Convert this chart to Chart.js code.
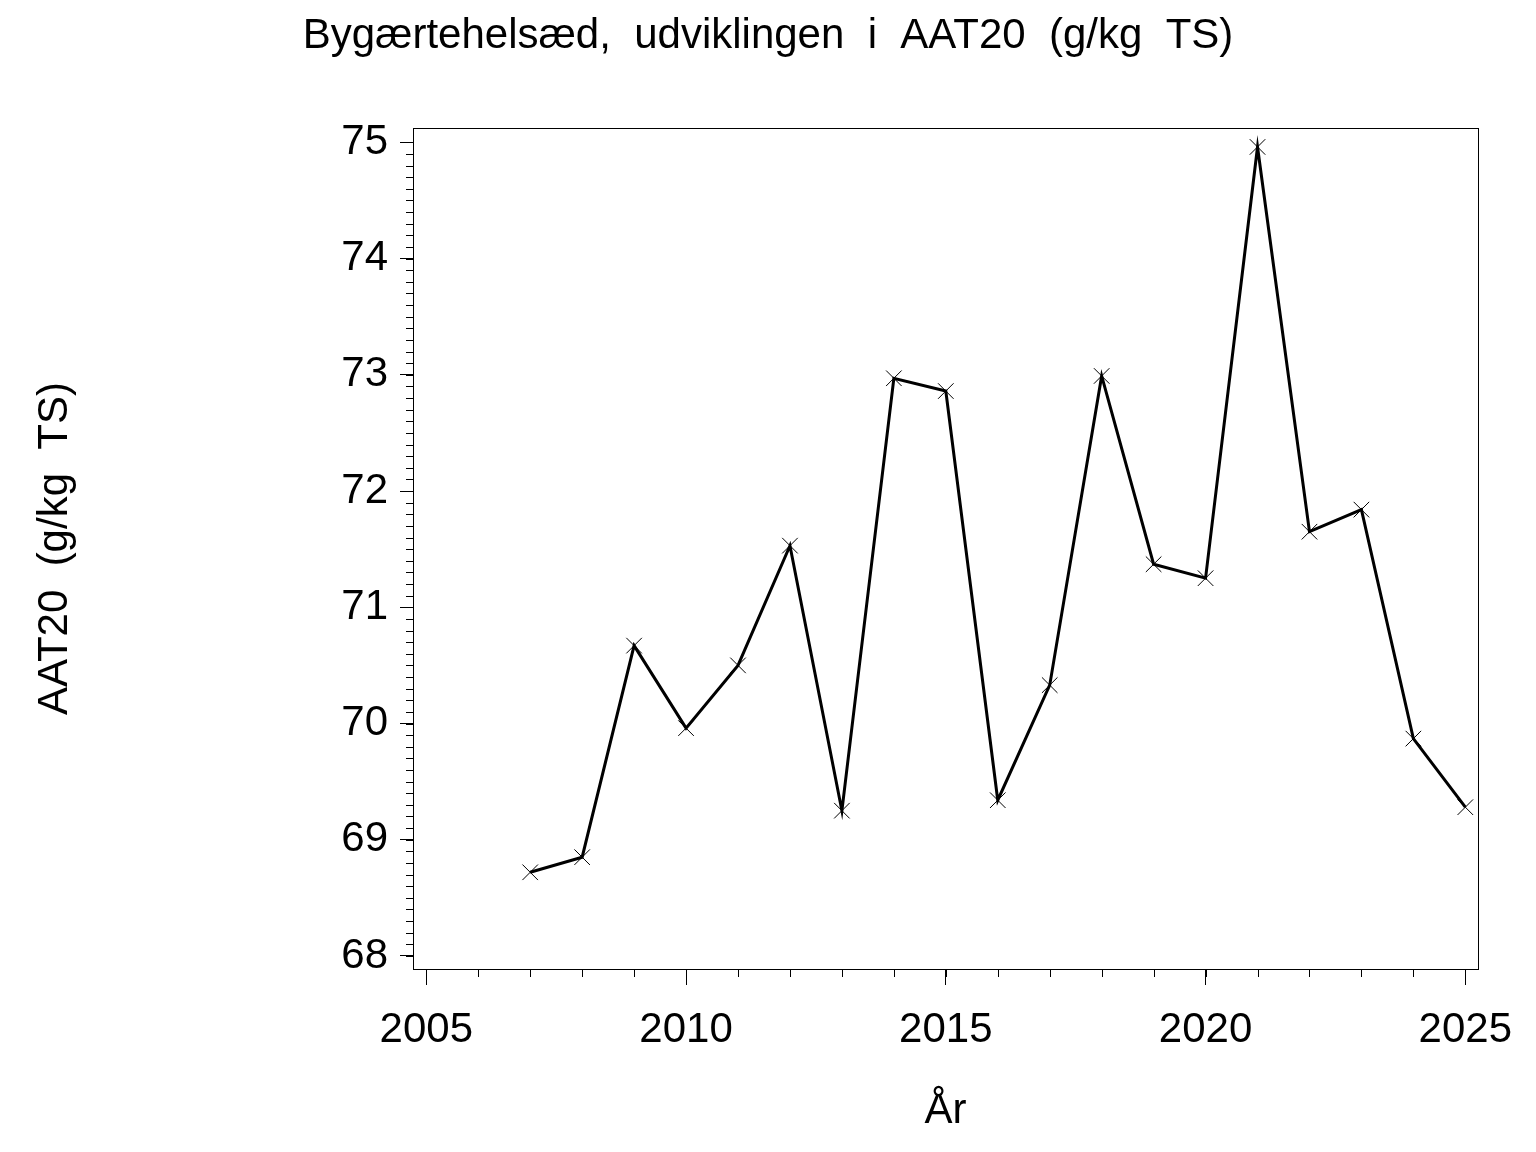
<!DOCTYPE html>
<html>
<head>
<meta charset="utf-8">
<title>Bygærtehelsæd AAT20</title>
<script src="https://cdn.jsdelivr.net/npm/chart.js"></script>
<style>
  body { margin: 0; background: #fff; }
  #wrap { width: 1536px; height: 1152px; }
</style>
</head>
<body>
<div id="wrap"><canvas id="myChart" width="1536" height="1152"></canvas></div>
<script>
// data
const years = [2007, 2008, 2009, 2010, 2011, 2012, 2013, 2014, 2015, 2016,
               2017, 2018, 2019, 2020, 2021, 2022, 2023, 2024, 2025];
const aat20 = [68.72, 68.85, 70.67, 69.96, 70.50, 71.53, 69.25, 72.97, 72.86, 69.34,
               70.33, 72.99, 71.37, 71.25, 74.96, 71.65, 71.84, 69.87, 69.28];

const xTicks = [2005, 2010, 2015, 2020, 2025];
const yTicks = [68, 69, 70, 71, 72, 73, 74, 75];

const titleText = 'Bygærtehelsæd,  udviklingen  i  AAT20  (g/kg  TS)';
const yTitle = 'AAT20  (g/kg  TS)';
const xTitle = 'År';

// minor ticks: every year on x, every 0.1 on y
const xMinor = [];
for (let v = xTicks[0]; v <= xTicks[xTicks.length - 1]; v++) xMinor.push(v);
const yMinor = [];
for (let i = yTicks[0] * 10; i <= yTicks[yTicks.length - 1] * 10; i++) yMinor.push(i / 10);

const frameAndMinor = {
    id: 'frameAndMinor',
    afterDraw(chart) {
        const { ctx, chartArea: a, scales: { x, y } } = chart;
        ctx.save();
        ctx.strokeStyle = '#000';
        ctx.lineWidth = 1;
        ctx.strokeRect(Math.round(a.left) + 0.5, Math.round(a.top) + 0.5,
                       Math.round(a.right - a.left), Math.round(a.bottom - a.top));
        ctx.beginPath();
        yMinor.forEach(v => {
            const p = Math.round(y.getPixelForValue(v)) + 0.5;
            ctx.moveTo(a.left - 7, p);
            ctx.lineTo(a.left, p);
        });
        xMinor.forEach(v => {
            const p = Math.round(x.getPixelForValue(v)) + 0.5;
            ctx.moveTo(p, a.bottom);
            ctx.lineTo(p, a.bottom + 8);
        });
        ctx.stroke();
        ctx.restore();
    }
};

Chart.defaults.font.family = '"Liberation Sans", Arial, sans-serif';
Chart.defaults.color = '#000';

window.onload = () => {
    const ctx = document.getElementById('myChart');
    new Chart(ctx, {
        type: 'line',
        data: {
            datasets: [{
                data: years.map((yr, i) => ({ x: yr, y: aat20[i] })),
                borderColor: '#000',
                borderWidth: 3,
                pointStyle: 'crossRot',
                pointRadius: 11,
                pointBorderWidth: 1,
                pointBorderColor: '#000',
                pointBackgroundColor: '#000',
                tension: 0
            }]
        },
        options: {
            responsive: false,
            animation: false,
            devicePixelRatio: 1,
            layout: { padding: 0 },
            plugins: {
                legend: { display: false },
                tooltip: { enabled: false },
                title: {
                    display: true,
                    text: titleText,
                    color: '#000',
                    font: { size: 42, weight: 'normal', lineHeight: 1.2 },
                    padding: { top: 11, bottom: 66.6 }
                }
            },
            scales: {
                x: {
                    type: 'linear',
                    min: 2004.744,
                    max: 2025.244,
                    afterBuildTicks: s => { s.ticks = xTicks.map(v => ({ value: v })); },
                    afterFit: s => { s.height = 183; },
                    ticks: {
                        autoSkip: false,
                        maxRotation: 0,
                        padding: 20,
                        font: { size: 42 },
                        callback: v => String(v)
                    },
                    grid: { drawOnChartArea: false, tickLength: 16, color: '#000', lineWidth: 1 },
                    border: { display: true, color: '#000', width: 1 },
                    title: {
                        display: true,
                        text: xTitle,
                        font: { size: 42, lineHeight: 1.2 },
                        padding: { top: 0, bottom: 15 }
                    }
                },
                y: {
                    min: 67.888,
                    max: 75.123,
                    afterBuildTicks: s => { s.ticks = yTicks.map(v => ({ value: v })); },
                    afterFit: s => { s.width = 413; },
                    ticks: {
                        padding: 12,
                        font: { size: 42 },
                        callback: v => String(v)
                    },
                    grid: { drawOnChartArea: false, tickLength: 13, color: '#000', lineWidth: 1 },
                    border: { display: true, color: '#000', width: 1 },
                    title: {
                        display: true,
                        text: yTitle,
                        font: { size: 42, lineHeight: 1.2 },
                        padding: { top: 30, bottom: 0 }
                    }
                },
                // empty right-hand strip, keeps the title centred on the whole canvas
                yRight: {
                    position: 'right',
                    min: 67.888,
                    max: 75.123,
                    afterFit: s => { s.width = 58; },
                    ticks: { display: false },
                    grid: { display: false },
                    border: { display: false }
                }
            }
        },
        plugins: [frameAndMinor]
    });
};
</script>
</body>
</html>
